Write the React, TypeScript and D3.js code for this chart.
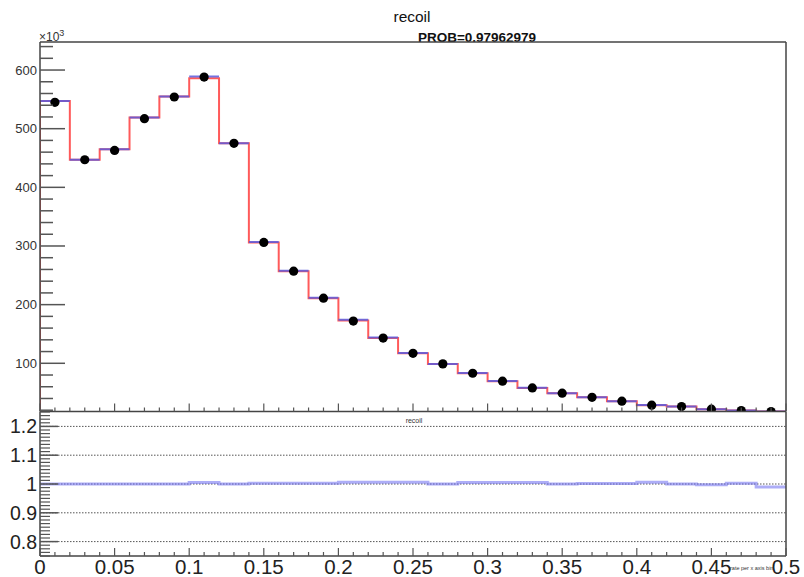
import React from "react";
import * as d3 from "d3";

// ---- data ----
const binEdges = [0, 0.02, 0.04, 0.06, 0.08, 0.1, 0.12, 0.14, 0.16, 0.18, 0.2, 0.22, 0.24, 0.26, 0.28, 0.3, 0.32, 0.34, 0.36, 0.38, 0.4, 0.42, 0.44, 0.46, 0.48, 0.5];
// data points (x10^3)
const dataValues = [545, 447, 463, 517, 554, 588, 475, 306, 257, 211, 172, 143, 117, 99, 83, 69.5, 58, 49, 42, 35.4, 28.5, 26.3, 21.7, 19.5, 17.8];
// red histogram (x10^3)
const redValues = [547, 447, 465, 519, 555, 586, 475, 306, 257, 211, 173, 143, 117, 99, 83, 69.5, 58, 49, 42, 35.4, 28.5, 26.3, 21.7, 19.5, 17.8];
// ratio (lower panel)
const ratioValues = [1.0, 1.0, 1.0, 1.0, 1.0, 1.005, 1.0, 1.003, 1.003, 1.003, 1.006, 1.006, 1.006, 1.0, 1.005, 1.005, 1.005, 1.0, 1.002, 1.002, 1.006, 1.0, 0.997, 1.003, 0.99];
const xTickLabels = ["0", "0.05", "0.1", "0.15", "0.2", "0.25", "0.3", "0.35", "0.4", "0.45", "0.5"];
const yTickValues = [100, 200, 300, 400, 500, 600];
const ratioTickValues = [0.8, 0.9, 1, 1.1, 1.2];
const ratioTickLabels = ["0.8", "0.9", "1", "1.1", "1.2"];

const W = 804, H = 577;
const L = 40, R = 786;
const upTop = 42, upBot = 411.5;
const loTop = 412, loBot = 556;
const FONT = "'Liberation Sans', Arial, Helvetica, sans-serif";

export default function App() {
  const x = d3.scaleLinear().domain([0, 0.5]).range([L, R]);
  const y = d3.scaleLinear().domain([17.8, 647.8]).range([upBot, upTop]);
  const yr = d3.scaleLinear().domain([0.75, 1.25]).range([loBot, loTop]);

  const nb = dataValues.length;
  let redPath = "";
  for (let i = 0; i < nb; i++) {
    const x0 = x(binEdges[i]), x1 = x(binEdges[i + 1]), yy = y(redValues[i]);
    if (i === 0) redPath += `M${x0},${upBot + 5}L${x0},${yy}`;
    else redPath += `L${x0},${yy}`;
    redPath += `L${x1},${yy}`;
  }
  redPath += `L${x(0.5)},${upBot + 5}`;

  const blueSegs = redValues.map((v, i) => ({
    x0: x(binEdges[i]), x1: x(binEdges[i + 1]), y: y(v * ratioValues[i]),
  }));

  let ratioPath = "";
  for (let i = 0; i < nb; i++) {
    const x0 = x(binEdges[i]), x1 = x(binEdges[i + 1]), yy = yr(ratioValues[i]);
    ratioPath += (i === 0 ? `M${x0},${yy}` : `L${x0},${yy}`) + `L${x1},${yy}`;
  }

  const yMinor = d3.range(20, 647, 20).filter((v) => v % 100 !== 0);
  const xMinor = d3.range(0, 51).map((i) => i / 100).filter((_, i) => i % 5 !== 0);
  const xMajor = d3.range(0, 11).map((i) => i * 0.05);
  const rMinor = d3.range(0, 41).map((i) => 0.75 + i * 0.0125).filter((v) => Math.abs(v * 10 - Math.round(v * 10)) > 1e-6);

  const axisCol = "#444";

  return (
    <svg width={W} height={H} style={{ position: "absolute", left: 0, top: 0, background: "#fff" }} fontFamily={FONT}>
      <defs>
        <clipPath id="upclip"><rect x={L} y={upTop} width={R - L} height={upBot - upTop} /></clipPath>
        <clipPath id="loclip"><rect x={L} y={loTop} width={R - L} height={loBot - loTop} /></clipPath>
      </defs>
      {/* titles */}
      <text x={412} y={22} fontSize={15.5} textAnchor="middle" fill="#111">recoil</text>
      <text x={477} y={42} fontSize={13.5} fontWeight="bold" textAnchor="middle" fill="#111">PROB=0.97962979</text>
      <text x={39} y={41} fontSize={12} fill="#333">×10<tspan dy={-5} fontSize={9}>3</tspan></text>

      {/* upper panel content */}
      <g clipPath="url(#upclip)">
        <path d={redPath} fill="none" stroke="#ff5a5a" strokeWidth={2} />
        {blueSegs.map((s, i) => (
          <line key={i} x1={s.x0} x2={s.x1} y1={s.y} y2={s.y} stroke="#5a5adc" strokeWidth={2} strokeOpacity={0.85} />
        ))}
        {dataValues.map((v, i) => (
          <circle key={i} cx={x((binEdges[i] + binEdges[i + 1]) / 2)} cy={y(v)} r={4.6} fill="#000" />
        ))}
      </g>

      {/* upper frame */}
      <line x1={L} x2={R} y1={upTop} y2={upTop} stroke={axisCol} strokeWidth={1.5} />
      <line x1={R} x2={R} y1={upTop} y2={upBot} stroke={axisCol} strokeWidth={1.5} />
      <line x1={L} x2={L} y1={upTop} y2={upBot} stroke={axisCol} strokeWidth={1.5} />
      <line x1={L} x2={R} y1={upBot} y2={upBot} stroke={axisCol} strokeWidth={1.5} />
      {yTickValues.map((v) => (
        <g key={v}>
          <line x1={L} x2={L + 25} y1={y(v)} y2={y(v)} stroke="#555" strokeWidth={1.5} />
          <text x={37} y={y(v) + 4.5} fontSize={13} textAnchor="end" fill="#333">{v}</text>
        </g>
      ))}
      {yMinor.map((v) => (
        <line key={v} x1={L} x2={L + 13} y1={y(v)} y2={y(v)} stroke="#555" strokeWidth={1.5} />
      ))}
      {xMajor.map((v) => (
        <line key={v} x1={x(v)} x2={x(v)} y1={upBot} y2={upBot - 8} stroke="#555" strokeWidth={1.2} />
      ))}
      {xMinor.map((v) => (
        <line key={v} x1={x(v)} x2={x(v)} y1={upBot} y2={upBot - 4} stroke="#555" strokeWidth={1.2} />
      ))}

      {/* lower panel */}
      {ratioTickValues.map((v) => (
        <line key={v} x1={L} x2={R} y1={yr(v)} y2={yr(v)} stroke="#555" strokeWidth={1} strokeDasharray="1.5,1.5" />
      ))}
      <g clipPath="url(#loclip)">
        <path d={ratioPath} fill="none" stroke="#6a6af0" strokeOpacity={0.55} strokeWidth={3} />
      </g>
      <text x={414} y={423} fontSize={7} textAnchor="middle" fill="#333">recoil</text>
      <line x1={L} x2={L} y1={loTop} y2={loBot} stroke={axisCol} strokeWidth={1.5} />
      <line x1={R} x2={R} y1={loTop} y2={loBot} stroke={axisCol} strokeWidth={1.5} />
      <line x1={L} x2={R} y1={loBot} y2={loBot} stroke={axisCol} strokeWidth={1.5} />
      {ratioTickValues.map((v, i) => (
        <g key={v}>
          <line x1={L} x2={L + 18} y1={yr(v)} y2={yr(v)} stroke="#555" strokeWidth={1.5} />
          <text x={37} y={yr(v) + 7} fontSize={19.5} textAnchor="end" fill="#222">{ratioTickLabels[i]}</text>
        </g>
      ))}
      {rMinor.map((v) => (
        <line key={v} x1={L} x2={L + 10} y1={yr(v)} y2={yr(v)} stroke="#555" strokeWidth={1.2} />
      ))}
      {xMajor.map((v, i) => (
        <g key={v}>
          <line x1={x(v)} x2={x(v)} y1={loBot} y2={loBot - 8} stroke="#555" strokeWidth={1.2} />
          <text x={x(v)} y={574} fontSize={20.5} textAnchor="middle" fill="#222">{xTickLabels[i]}</text>
        </g>
      ))}
      {xMinor.map((v) => (
        <line key={v} x1={x(v)} x2={x(v)} y1={loBot} y2={loBot - 4} stroke="#555" strokeWidth={1.2} />
      ))}
      <text x={730} y={570} fontSize={5.5} fill="#333">rate per x axis bin</text>
    </svg>
  );
}
